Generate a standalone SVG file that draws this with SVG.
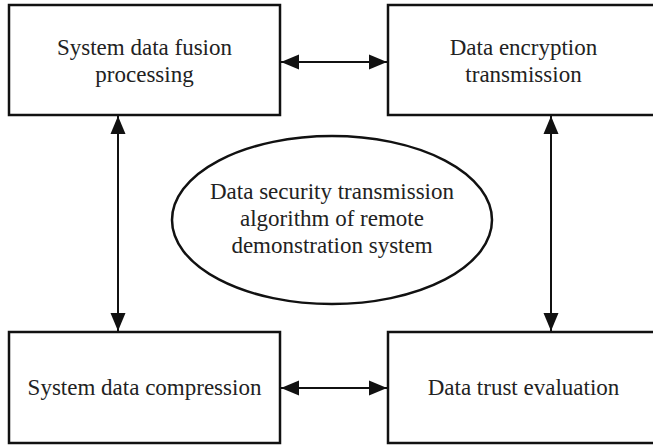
<svg xmlns="http://www.w3.org/2000/svg" width="653" height="445" viewBox="0 0 653 445">
<style>
.box{fill:#fff;stroke:#111;stroke-width:2.5}
.conn{stroke:#111;stroke-width:2;fill:none}
text{font-family:"Liberation Serif","Times New Roman",serif;font-size:23px;fill:#222;text-anchor:middle}
</style>
<defs>
<marker id="ah" markerUnits="userSpaceOnUse" markerWidth="20" markerHeight="18" refX="18" refY="8" orient="auto-start-reverse" viewBox="0 0 20 16">
<path d="M0,0.5 L18,8 L0,15.5 Z" fill="#111"/>
</marker>
</defs>
<rect width="653" height="445" fill="#fff"/>
<g id="connectors">
<line class="conn" x1="281" y1="62" x2="387" y2="62" marker-start="url(#ah)" marker-end="url(#ah)"/>
<line class="conn" x1="281" y1="388" x2="387" y2="388" marker-start="url(#ah)" marker-end="url(#ah)"/>
<line class="conn" x1="118" y1="116" x2="118" y2="331" marker-start="url(#ah)" marker-end="url(#ah)"/>
<line class="conn" x1="551" y1="116" x2="551" y2="331" marker-start="url(#ah)" marker-end="url(#ah)"/>
</g>
<g id="fusion">
<rect class="box" x="9" y="5" width="271" height="110"/>
<text x="144.5" y="55">System data fusion</text>
<text x="144.5" y="82">processing</text>
</g>
<g id="encryption">
<rect class="box" x="388" y="5" width="271" height="110"/>
<text x="523.5" y="55">Data encryption</text>
<text x="523.5" y="82">transmission</text>
</g>
<g id="compression">
<rect class="box" x="9" y="332" width="271" height="111"/>
<text x="144.5" y="395">System data compression</text>
</g>
<g id="trust">
<rect class="box" x="388" y="332" width="271" height="111"/>
<text x="523.5" y="395">Data trust evaluation</text>
</g>
<g id="algorithm">
<ellipse cx="332" cy="220" rx="160" ry="84" fill="#fff" stroke="#111" stroke-width="2.5"/>
<text x="332" y="199">Data security transmission</text>
<text x="332" y="226">algorithm of remote</text>
<text x="332" y="253">demonstration system</text>
</g>
</svg>
